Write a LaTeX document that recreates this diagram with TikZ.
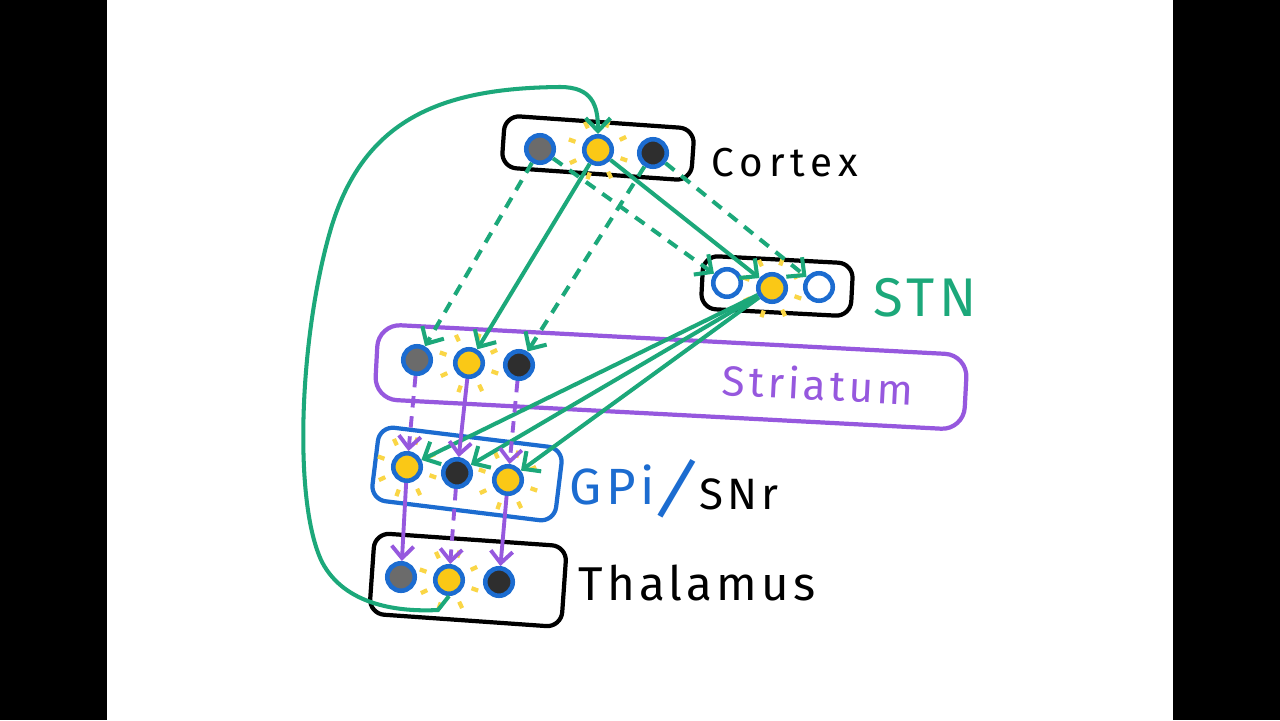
\documentclass[tikz,border=0pt]{standalone}
\usepackage{fontspec}
\newfontfamily\handfont[LetterSpace=9]{Fira Sans}
\newfontfamily\widehand[LetterSpace=15]{Fira Sans}
\usetikzlibrary{arrows.meta}
\definecolor{exgreen}{RGB}{28,168,122}
\definecolor{inpurple}{RGB}{150,88,222}
\definecolor{nblue}{RGB}{28,108,208}
\definecolor{nyellow}{RGB}{250,200,22}
\definecolor{glow}{RGB}{250,214,70}
\newcommand\handsize[1]{\handfont\fontsize{#1}{#1}\selectfont}

\begin{document}
\begin{tikzpicture}[x=0.02cm, y=-0.02cm,
  neuron/.style={circle, draw=nblue, line width=2.6pt, minimum size=0.55cm, inner sep=0pt},
  quiet/.style={neuron, fill=black!82},
  greycell/.style={neuron, fill=black!58},
  active/.style={neuron, fill=nyellow},
  silent/.style={neuron, fill=white},
  cellbox/.style={rectangle, rounded corners=0.3cm, draw, line width=2.4pt, inner sep=0pt},
  exc/.style={draw=exgreen, line width=2.3pt, -{Straight Barb[length=2.6mm, width=5mm]}},
  inh/.style={draw=inpurple, line width=2.2pt, -{Straight Barb[length=2.4mm, width=4.4mm]}},
  gap/.style={dash pattern=on 6.5pt off 5pt},
  ray/.style={draw=glow, line width=2.4pt},
  lbl/.style={inner sep=0.5pt}]
  % background
  \fill[white] (0,0) rectangle (1280,720);
  \fill[black] (0,0) rectangle (107,720);
  \fill[black] (1173,0) rectangle (1280,720);
  \useasboundingbox (0,0) rectangle (1280,720);

  % groups
  \node[cellbox, minimum width=3.8cm, minimum height=1.04cm, rotate=-4] (cortex) at (598,148) {};
  \node[cellbox, minimum width=3.0cm, minimum height=1.06cm, rotate=-3] (stn) at (777,286) {};
  \node[cellbox, draw=inpurple, minimum width=11.8cm, minimum height=1.5cm, rounded corners=0.45cm, rotate=-3] (striatum) at (671,377) {};
  \node[cellbox, draw=nblue, minimum width=3.7cm, minimum height=1.48cm, rotate=-7] (gpi) at (467,474) {};
  \node[cellbox, minimum width=3.85cm, minimum height=1.62cm, rotate=-4] (thal) at (468,580) {};

  % labels
  \node[lbl, font=\widehand\fontsize{23}{23}\selectfont] (ctxlbl) at (785,163) {Cortex};
  \node[lbl, font=\handsize{31}, text=exgreen] (stnlbl) at (925,298) {STN};
  \node[lbl, font=\handsize{24}, text=inpurple, rotate=-3] (strlbl) at (818,384) {Striatum};
  \node[lbl, font=\handsize{29}, text=nblue] (gpilbl) at (612,485) {GPi};
  \node[lbl, inner sep=0pt, font=\handsize{40}, text=nblue, rotate=-16] (slash) at (677,489) {/};
  \node[lbl, font=\handsize{25}] (snrlbl) at (739,494) {SNr};
  \node[lbl, font=\handsize{27}] (thallbl) at (697,583) {Thalamus};

  % neurons
  \node[greycell] (ctxL) at (540,149) {};
  \node[active] (ctxC) at (598,150) {};
  \node[quiet] (ctxR) at (653,153) {};
  \node[silent] (stnL) at (727,283) {};
  \node[active] (stnC) at (772,288) {};
  \node[silent] (stnR) at (819,287) {};
  \node[greycell] (strL) at (417,360) {};
  \node[active] (strC) at (469,363) {};
  \node[quiet] (strR) at (519,365) {};
  \node[active] (gpL) at (407,467) {};
  \node[quiet] (gpC) at (457,473) {};
  \node[active] (gpR) at (508,480) {};
  \node[greycell] (thL) at (401,577) {};
  \node[active] (thC) at (449,580) {};
  \node[quiet] (thR) at (499,582) {};

  % glow round the firing cells
  \foreach \n in {ctxC,stnC,strC,gpL,gpR,thC}
    \foreach \a in {20,65,110,155,200,245,290,335}
      \draw[ray] (\n) ++(\a:24) -- ++(\a:7);

  % cortex out
  \draw[exc, gap] (ctxL) -- (strL);
  \draw[exc] (ctxC) -- (strC);
  \draw[exc, gap] (ctxR) -- (strR);
  \draw[exc, gap] (ctxL) -- (stnL);
  \draw[exc] (ctxC) -- (stnC);
  \draw[exc, gap] (ctxR) -- (stnR);
  % stn to gpi
  \draw[exc] (stnC) -- (gpL);
  \draw[exc] (stnC) -- (gpC);
  \draw[exc] (stnC) -- (gpR);
  % striatum to gpi, gpi to thalamus
  \draw[inh, gap] (strL) -- (gpL);
  \draw[inh] (strC) -- (gpC);
  \draw[inh, gap] (strR) -- (gpR);
  \draw[inh] (gpL) -- (thL);
  \draw[inh, gap] (gpC) -- (thC);
  \draw[inh] (gpR) -- (thR);
  % thalamus back to cortex
  \draw[exc] (thC.south) -- (438,610) .. controls (400,612) and (345,606) .. (322,562)
    .. controls (292,500) and (300,330) .. (332,225)
    .. controls (365,120) and (440,88) .. (560,87)
    .. controls (592,87) and (598,105) .. (ctxC.north);
\end{tikzpicture}
\end{document}
